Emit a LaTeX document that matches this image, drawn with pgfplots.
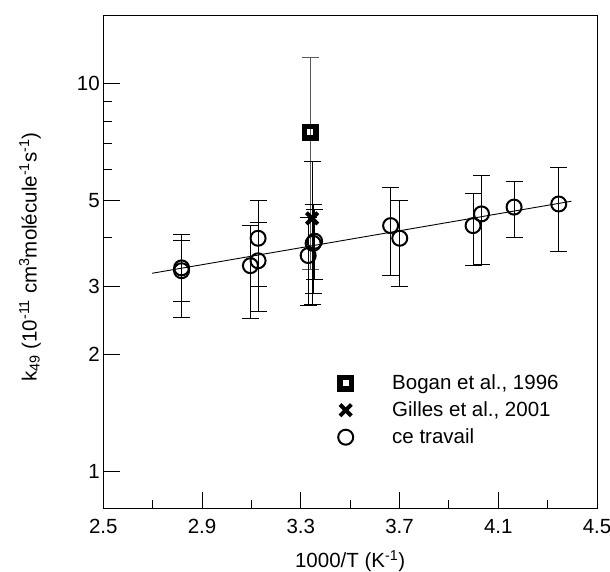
\documentclass[border=0pt]{standalone}
\usepackage{pgfplots}
\pgfplotsset{compat=1.18}
\usepackage{fontspec}
\setmainfont{Liberation Sans}
\newcommand{\fsz}{\fontsize{20.5}{24}\selectfont}
\begin{document}
\begin{tikzpicture}
\path[use as bounding box] (-103.3pt,-62.3pt) rectangle (506.7pt,508.7pt);
\begin{axis}[
  at={(0pt,0pt)}, anchor=south west,
  width=493.7pt, height=493.4pt, scale only axis,
  xmin=2.5, xmax=4.5, ymode=log, ymin=0.8, ymax=15,
  xtick={2.5,2.9,3.3,3.7,4.1,4.5}, xticklabels={2.5,2.9,3.3,3.7,4.1,4.5},
  minor xtick={2.7,3.1,3.5,3.9,4.3},
  ytick={1,2,3,5,10}, yticklabels={1,2,3,5,10},
  minor ytick={4,6,7,8,9},
  tick pos=left, tick align=inside,
  major tick length=17pt, minor tick length=9pt,
  tick style={black, line width=0.9pt},
  axis line style={line width=0.9pt},
  tick label style={font=\fsz},
  xticklabel style={yshift=-7pt},
  label style={font=\fsz},
  xlabel={1000/T (K\textsuperscript{-1})},
  ylabel={k\textsubscript{49} (10\textsuperscript{-11} cm\textsuperscript{3}molécule\textsuperscript{-1}s\textsuperscript{-1})},
  xlabel style={at={(axis description cs:0.5,-0.106)}, anchor=center},
  ylabel style={at={(axis description cs:-0.1485,0.51)}, anchor=center},
  legend style={draw=none, fill=none, inner sep=0pt,
    at={(axis description cs:0.4744,0.2730)}, anchor=north west,
    row sep=9pt, column sep=38.5pt,
    nodes={inner sep=0pt, font=\fsz}, cells={anchor=west}},
  legend image code/.code={\draw[#1,overlay] plot coordinates {(0pt,0pt)}; \path[draw=none,fill=none] (-8pt,-9pt) rectangle (8pt,9pt);},
]
\addlegendimage{black, only marks, mark=square, mark size=5.75pt, mark options={line width=5.5pt}}
\addlegendentry{Bogan et al., 1996}
\addlegendimage{black, only marks, mark=x, mark size=8pt, mark options={line width=4pt}}
\addlegendentry{Gilles et al., 2001}
\addlegendimage{black, only marks, mark=o, mark size=7.5pt, mark options={line width=2pt}}
\addlegendentry{ce travail}
% Bogan et al., 1996
\addplot[black, only marks, mark=square, mark size=5.75pt, mark options={line width=5.5pt}, forget plot,
  error bars/.cd, y dir=both, y explicit,
  error bar style={line width=0.9pt, black!65},
  error mark options={rotate=90, mark size=8.5pt, line width=0.9pt, black!65}]
  coordinates {(3.338,7.49) +- (0,4.18)};
% Gilles et al., 2001
\addplot[black, only marks, mark=x, mark size=8pt, mark options={line width=4pt}, forget plot,
  error bars/.cd, y dir=both, y explicit,
  error bar style={line width=0.9pt},
  error mark options={rotate=90, mark size=8.5pt, line width=0.9pt}]
  coordinates {(3.346,4.49) +- (0,1.8)};
% ce travail
\addplot[black, only marks, mark=o, mark size=7.5pt, mark options={line width=2pt}, forget plot,
  error bars/.cd, y dir=both, y explicit,
  error bar style={line width=0.9pt},
  error mark options={rotate=90, mark size=8.5pt, line width=0.9pt}]
  coordinates {
  (2.817,3.29) +- (0,0.80)
  (2.817,3.345) +- (0,0.60)
  (3.096,3.39) +- (0,0.91)
  (3.127,3.49) +- (0,0.90)
  (3.127,3.99) +- (0,1.00)
  (3.330,3.60) +- (0,0.92)
  (3.350,3.87) +- (0,1.00)
  (3.356,3.92) +- (0,0.80)
  (3.664,4.30) +- (0,1.10)
  (3.701,3.99) +- (0,1.00)
  (3.998,4.30) +- (0,0.90)
  (4.032,4.61) +- (0,1.20)
  (4.164,4.80) +- (0,0.80)
  (4.345,4.89) +- (0,1.20)
  };
% fit
\addplot[black, line width=0.9pt, forget plot] coordinates {(2.698,3.24) (4.396,4.97)};
\end{axis}
\end{tikzpicture}
\end{document}
